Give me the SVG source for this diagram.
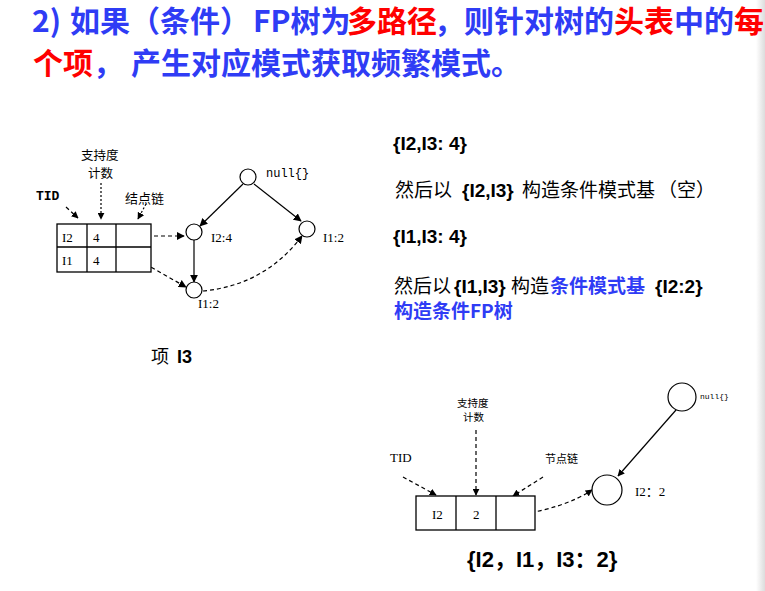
<svg xmlns="http://www.w3.org/2000/svg" width="765" height="591" viewBox="0 0 765 591">
<defs>
<linearGradient id="edge" x1="0" y1="0" x2="1" y2="0">
<stop offset="0" stop-color="#ffffff"/>
<stop offset="1" stop-color="#dcdcdc"/>
</linearGradient>
<marker id="ah" viewBox="0 0 10 10" refX="9" refY="5" markerWidth="8" markerHeight="8" markerUnits="userSpaceOnUse" orient="auto">
<path d="M0,0 L10,5 L0,10 z" fill="#000"/>
</marker>
<marker id="ahs" viewBox="0 0 10 10" refX="9" refY="5" markerWidth="7" markerHeight="7" markerUnits="userSpaceOnUse" orient="auto">
<path d="M0,0 L10,5 L0,10 z" fill="#000"/>
</marker>
</defs>
<style>
.title{font-family:"Noto Sans CJK SC","Noto Sans",sans-serif;font-weight:bold;font-size:30px;fill:#2f3cf5}
.red{fill:#ff0000}
.blue{fill:#2f3cf5}
.cjk{font-family:"Noto Sans CJK SC",sans-serif}
.txt{font-size:19px;fill:#000}
.b{font-family:"Liberation Sans","Noto Sans CJK SC",sans-serif;font-weight:bold}
.bc{font-family:"Noto Sans CJK SC",sans-serif;font-weight:bold;fill:#2f3cf5}
.lbl{font-family:"Liberation Serif","Noto Sans CJK SC",serif;font-size:13px;fill:#000}
.mono{font-family:"Liberation Mono",monospace;fill:#000}
.zh{font-family:"Noto Sans CJK SC",sans-serif;fill:#000}
.node{fill:#fff;stroke:#000;stroke-width:1.2}
.cell{fill:#fff;stroke:#000;stroke-width:1.3}
.solid{fill:none;stroke:#000;stroke-width:1.2}
.dash{fill:none;stroke:#000;stroke-width:1.2;stroke-dasharray:4 3}
.dot{fill:none;stroke:#000;stroke-width:1.2;stroke-dasharray:2 2}
</style>
<rect x="0" y="0" width="765" height="591" fill="#fff"/>
<rect x="756" y="0" width="9" height="591" fill="url(#edge)"/>

<g id="title">
<text class="title" y="32"><tspan x="32">2)</tspan><tspan x="70">如果（条件）</tspan><tspan x="253">FP树为</tspan><tspan x="347" class="red">多路径</tspan><tspan x="434">，则针对树的</tspan><tspan x="614" class="red">头表</tspan><tspan x="674">中的</tspan><tspan x="734" class="red">每</tspan></text>
<text class="title" y="74"><tspan x="33" class="red">个项</tspan><tspan x="93">，</tspan><tspan x="131">产生对应模式获取频繁模式。</tspan></text>
</g>

<g id="connectors">
<path class="dash" d="M66,207 L78,218" marker-end="url(#ahs)"/>
<path class="dot" d="M101,183 L101,219" marker-end="url(#ahs)"/>
<path class="dot" d="M146,204 L138,219" marker-end="url(#ahs)"/>
<path class="dash" d="M133,236 L184,236" marker-end="url(#ah)"/>
<path class="dash" d="M133,257 L186,287" marker-end="url(#ah)"/>
<path class="solid" d="M243,184 L200,226" marker-end="url(#ah)"/>
<path class="solid" d="M254,184 L301,221" marker-end="url(#ah)"/>
<path class="solid" d="M194,240 L194,282" marker-end="url(#ah)"/>
<path class="dash" d="M203,291 Q265,285 302,236" marker-end="url(#ah)"/>
<path class="dash" d="M403,477 L436,495" marker-end="url(#ahs)"/>
<path class="dash" d="M476,430 L476,495" marker-end="url(#ahs)"/>
<path class="dash" d="M543,477 L513,496" marker-end="url(#ahs)"/>
<path class="dash" stroke-dasharray="7 4" d="M517,515 Q565,508 592,490" marker-end="url(#ahs)"/>
<path class="solid" stroke-width="1" d="M676,410 L618,476" marker-end="url(#ahs)"/>
</g>

<g id="header-table-1">
<rect class="cell" x="57" y="224" width="94" height="48"/>
<line class="cell" x1="57" y1="247" x2="151" y2="247"/>
<line class="cell" x1="87" y1="224" x2="87" y2="272"/>
<line class="cell" x1="116" y1="224" x2="116" y2="272"/>
<text class="lbl" x="62" y="242">I2</text>
<text class="lbl" x="93" y="242">4</text>
<text class="lbl" x="62" y="265">I1</text>
<text class="lbl" x="93" y="265">4</text>
</g>
<g id="labels-1">
<text class="zh" font-size="12.5" x="81" y="160">支持度</text>
<text class="zh" font-size="12.5" x="88" y="178">计数</text>
<text class="mono" font-size="13" font-weight="bold" x="36" y="200">TID</text>
<text class="zh" font-size="13" x="125" y="203">结点链</text>
</g>
<g id="node-null-1"><circle class="node" cx="248" cy="177" r="8"/><text class="mono" font-size="12" x="266" y="177">null{}</text></g>
<g id="node-I2-4"><circle class="node" cx="194" cy="232" r="8"/><text class="lbl" x="211" y="242">I2:4</text></g>
<g id="node-I1-2-right"><circle class="node" cx="307" cy="229" r="8"/><text class="lbl" x="323" y="242">I1:2</text></g>
<g id="node-I1-2-bottom"><circle class="node" cx="194" cy="290" r="8"/><text class="lbl" x="198" y="308">I1:2</text></g>
<g id="caption-1"><text y="363" font-size="18"><tspan x="151" class="zh">项</tspan><tspan x="177" class="b">I3</tspan></text></g>

<g id="explain">
<text class="txt b" x="393" y="150">{I2,I3: 4}</text>
<text class="txt" y="197"><tspan x="395" class="cjk">然后以</tspan><tspan x="462" class="b">{I2,I3}</tspan><tspan x="522" class="cjk">构造条件模式基</tspan><tspan x="658" class="cjk">（空）</tspan></text>
<text class="txt b" x="393" y="243">{I1,I3: 4}</text>
<text class="txt" y="293"><tspan x="394" class="cjk">然后以</tspan><tspan x="454" class="b">{I1,I3}</tspan><tspan x="511" class="cjk">构造</tspan><tspan x="550" class="bc">条件模式基</tspan><tspan x="655" class="b">{I2:2}</tspan></text>
<text class="txt bc" x="394" y="318">构造条件FP树</text>
</g>

<g id="header-table-2">
<rect class="cell" x="416" y="496" width="119" height="34" stroke-width="1"/>
<line class="cell" x1="456" y1="496" x2="456" y2="530" stroke-width="1"/>
<line class="cell" x1="496" y1="496" x2="496" y2="530" stroke-width="1"/>
<text class="lbl" font-size="9" x="432" y="519">I2</text>
<text class="lbl" font-size="9" x="473" y="519">2</text>
</g>
<g id="labels-2">
<text class="zh" font-size="10.5" x="457" y="407">支持度</text>
<text class="zh" font-size="10.5" x="463" y="421">计数</text>
<text class="lbl" font-size="10" x="390" y="462">TID</text>
<text class="zh" font-size="11" x="545" y="463">节点链</text>
</g>
<g id="node-null-2"><circle class="node" stroke-width="1" cx="682" cy="397" r="14"/><text class="mono" font-size="8" x="700" y="399">null{}</text></g>
<g id="node-I2-2"><circle class="node" stroke-width="1" cx="607" cy="490" r="15"/><text class="lbl" font-size="10" x="635" y="496">I2：2</text></g>
<g id="caption-2"><text class="b" font-size="22" x="467" y="567">{I2，I1，I3：2}</text></g>
</svg>
